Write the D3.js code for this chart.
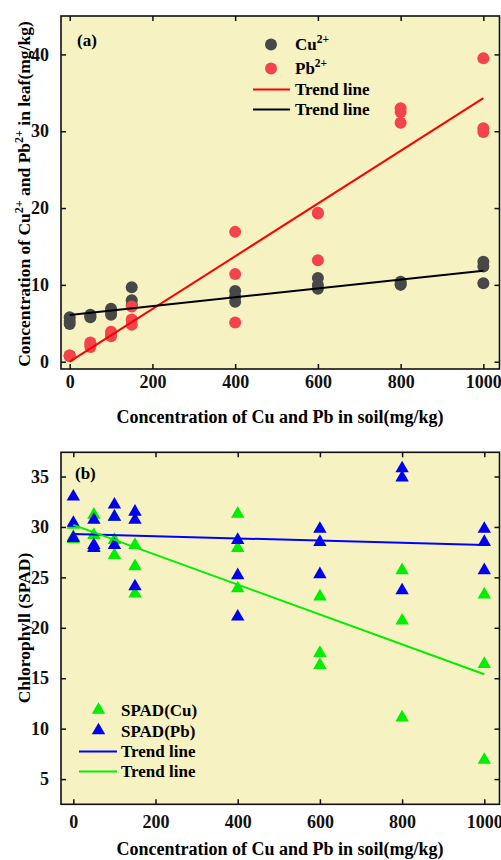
<!DOCTYPE html>
<html lang="en">
<head>
<meta charset="utf-8" />
<title>Cu and Pb in leaf / Chlorophyll</title>
<style>
  body { margin: 0; background: #fff; }
  svg { display: block; font-family: "Liberation Serif", "Times New Roman", serif; font-weight: bold; }
  .frame { fill: #f7f2c2; stroke: #111; stroke-width: 1.6; }
  .tick line { stroke: #111; stroke-width: 1.5; }
  .tick text { font-size: 18px; fill: #111; }
  .domain { display: none; }
</style>
</head>
<body>
<svg id="chart" width="501" height="860"></svg>
<script src="https://d3js.org/d3.v7.min.js"></script>
<script>
  // soil concentration levels (mg/kg)
  const doses = [0, 50, 100, 150, 400, 600, 800, 1000];

  // (a) leaf concentration, three replicates per dose
  const cuLeaf = [
    [5.8, 5.3, 4.9], [6.1, 5.8, 5.9], [6.9, 6.5, 6.1], [9.7, 8.0, 7.4],
    [9.2, 8.5, 7.8], [10.9, 10.0, 9.5], [10.4, 10.0, 10.1], [13.0, 12.4, 10.2]
  ];
  const pbLeaf = [
    [0.8, 0.7, 0.8], [2.5, 2.2, 1.9], [3.9, 3.3, 3.6], [7.2, 5.5, 4.8],
    [16.9, 11.4, 5.1], [19.4, 13.2, 19.3], [33.0, 32.5, 31.1], [39.5, 30.4, 29.9]
  ];
  const cuTrend = [[0, 6.07], [1000, 11.85]];
  const pbTrend = [[0, 0.0], [1000, 34.3]];

  // (b) chlorophyll SPAD, three replicates per dose
  const spadCu = [
    [30.2, 29.0, 28.8], [31.2, 29.2, 28.0], [31.0, 28.7, 27.2], [28.2, 26.1, 23.4],
    [31.3, 27.9, 23.9], [23.1, 17.5, 16.3], [25.7, 20.7, 11.1], [23.3, 16.4, 6.9]
  ];
  const spadPb = [
    [33.0, 30.4, 28.9], [30.7, 28.2, 27.9], [32.2, 31.0, 28.2], [31.5, 30.7, 24.1],
    [28.7, 25.2, 21.1], [29.8, 28.5, 25.3], [35.8, 34.9, 23.7], [29.8, 28.5, 25.7]
  ];
  const spadPbTrend = [[0, 29.3], [1000, 28.2]];
  const spadCuTrend = [[0, 30.2], [1000, 15.4]];

  const xTicks = [0, 200, 400, 600, 800, 1000];
  const yTicksA = [0, 10, 20, 30, 40];
  const yTicksB = [5, 10, 15, 20, 25, 30, 35];

  const svg = d3.select("#chart");
  const L = 61, R = 499.5;

  function flat(rows) {
    const out = [];
    rows.forEach((r, i) => r.forEach(v => out.push([doses[i], v])));
    return out;
  }

  function panel(top, bottom, xDom, yDom, yTicks, xPad) {
    const x = d3.scaleLinear().domain(xDom).range([L, R]);
    const y = d3.scaleLinear().domain(yDom).range([bottom, top]);
    const g = svg.append("g");
    g.append("rect").attr("class", "frame")
      .attr("x", L).attr("y", top).attr("width", R - L).attr("height", bottom - top);

    // inward ticks on all four sides
    const fmt = d3.format("d");
    const axes = [
      g.append("g").attr("transform", `translate(0,${bottom})`)
        .call(d3.axisBottom(x).tickValues(xTicks).tickFormat(fmt).tickSizeInner(-5).tickSizeOuter(0).tickPadding(xPad)),
      g.append("g").attr("transform", `translate(0,${top})`)
        .call(d3.axisTop(x).tickValues(xTicks).tickSizeInner(-5).tickSizeOuter(0).tickFormat("")),
      g.append("g").attr("transform", `translate(${L},0)`)
        .call(d3.axisLeft(y).tickValues(yTicks).tickFormat(fmt).tickSizeInner(-5).tickSizeOuter(0).tickPadding(12)),
      g.append("g").attr("transform", `translate(${R},0)`)
        .call(d3.axisRight(y).tickValues(yTicks).tickSizeInner(-5).tickSizeOuter(0).tickFormat(""))
    ];
    axes.forEach(a => a.attr("font-family", null).attr("font-size", null));
    return { x, y, g };
  }

  const line = (p) => d3.line().x(d => p.x(d[0])).y(d => p.y(d[1]));

  // ---------- panel (a) ----------
  const A = panel(16, 369, [-21, 1039], [-0.95, 45], yTicksA, 6);
  const dotsA = A.g.append("g");
  dotsA.selectAll(".cu").data(flat(cuLeaf)).join("circle")
    .attr("cx", d => A.x(d[0])).attr("cy", d => A.y(d[1])).attr("r", 6).attr("fill", "#484848");
  dotsA.selectAll(".pb").data(flat(pbLeaf)).join("circle")
    .attr("cx", d => A.x(d[0])).attr("cy", d => A.y(d[1])).attr("r", 6).attr("fill", "#f2444a");
  A.g.append("path").attr("d", line(A)(pbTrend)).attr("stroke", "#ff0000").attr("stroke-width", 2).attr("fill", "none");
  A.g.append("path").attr("d", line(A)(cuTrend)).attr("stroke", "#000").attr("stroke-width", 2).attr("fill", "none");

  svg.append("text").attr("x", 77).attr("y", 46).attr("font-size", 17).text("(a)");

  // legend (a)
  const legA = svg.append("g").attr("font-size", 17);
  legA.append("circle").attr("cx", 271).attr("cy", 44.5).attr("r", 6).attr("fill", "#484848");
  legA.append("circle").attr("cx", 271).attr("cy", 68.5).attr("r", 6).attr("fill", "#f2444a");
  legA.append("line").attr("x1", 253).attr("x2", 290).attr("y1", 89.5).attr("y2", 89.5).attr("stroke", "#ff0000").attr("stroke-width", 2);
  legA.append("line").attr("x1", 253).attr("x2", 290).attr("y1", 109.5).attr("y2", 109.5).attr("stroke", "#000").attr("stroke-width", 2);
  const t1 = legA.append("text").attr("x", 295).attr("y", 50);
  t1.append("tspan").text("Cu");
  t1.append("tspan").attr("dy", -7).attr("font-size", 11.5).text("2+");
  const t2 = legA.append("text").attr("x", 295).attr("y", 74);
  t2.append("tspan").text("Pb");
  t2.append("tspan").attr("dy", -7).attr("font-size", 11.5).text("2+");
  legA.append("text").attr("x", 295).attr("y", 95).text("Trend line");
  legA.append("text").attr("x", 295).attr("y", 115).text("Trend line");

  // axis titles (a)
  svg.append("text").attr("x", 280).attr("y", 423).attr("text-anchor", "middle").attr("font-size", 18)
    .text("Concentration of Cu and Pb in soil(mg/kg)");
  const yl = svg.append("text").attr("transform", "translate(30,194) rotate(-90)")
    .attr("text-anchor", "middle").attr("font-size", 17.5);
  yl.append("tspan").text("Concentration of Cu");
  yl.append("tspan").attr("dy", -7).attr("font-size", 12).text("2+");
  yl.append("tspan").attr("dy", 7).text(" and Pb");
  yl.append("tspan").attr("dy", -7).attr("font-size", 12).text("2+");
  yl.append("tspan").attr("dy", 7).text(" in leaf(mg/kg)");

  // ---------- panel (b) ----------
  const B = panel(452.3, 804.3, [-30, 1037], [2.5, 37.4], yTicksB, 11);
  const tri = d3.symbol().type(d3.symbolTriangle).size(78);
  const dotsB = B.g.append("g");
  dotsB.selectAll(".c").data(flat(spadCu)).join("path")
    .attr("d", tri).attr("transform", d => `translate(${B.x(d[0])},${B.y(d[1])})`).attr("fill", "#00ee00");
  dotsB.selectAll(".p").data(flat(spadPb)).join("path")
    .attr("d", tri).attr("transform", d => `translate(${B.x(d[0])},${B.y(d[1])})`).attr("fill", "#0000ee");
  B.g.append("path").attr("d", line(B)(spadPbTrend)).attr("stroke", "#0000ff").attr("stroke-width", 2).attr("fill", "none");
  B.g.append("path").attr("d", line(B)(spadCuTrend)).attr("stroke", "#00ee00").attr("stroke-width", 2).attr("fill", "none");

  svg.append("text").attr("x", 75).attr("y", 479).attr("font-size", 17).text("(b)");

  // legend (b)
  const legB = svg.append("g").attr("font-size", 17);
  legB.append("path").attr("d", tri).attr("transform", "translate(98.5,710)").attr("fill", "#00ee00");
  legB.append("path").attr("d", tri).attr("transform", "translate(98.5,730.5)").attr("fill", "#0000ee");
  legB.append("line").attr("x1", 79).attr("x2", 117).attr("y1", 751.5).attr("y2", 751.5).attr("stroke", "#0000ff").attr("stroke-width", 2);
  legB.append("line").attr("x1", 79).attr("x2", 117).attr("y1", 771.5).attr("y2", 771.5).attr("stroke", "#00ee00").attr("stroke-width", 2);
  legB.append("text").attr("x", 121).attr("y", 716).text("SPAD(Cu)");
  legB.append("text").attr("x", 121).attr("y", 736.5).text("SPAD(Pb)");
  legB.append("text").attr("x", 121).attr("y", 757).text("Trend line");
  legB.append("text").attr("x", 121).attr("y", 777).text("Trend line");

  svg.append("text").attr("x", 280).attr("y", 855).attr("text-anchor", "middle").attr("font-size", 18)
    .text("Concentration of Cu and Pb in soil(mg/kg)");
  svg.append("text").attr("transform", "translate(30,628) rotate(-90)")
    .attr("text-anchor", "middle").attr("font-size", 17.5).text("Chlorophyll (SPAD)");
</script>
</body>
</html>
